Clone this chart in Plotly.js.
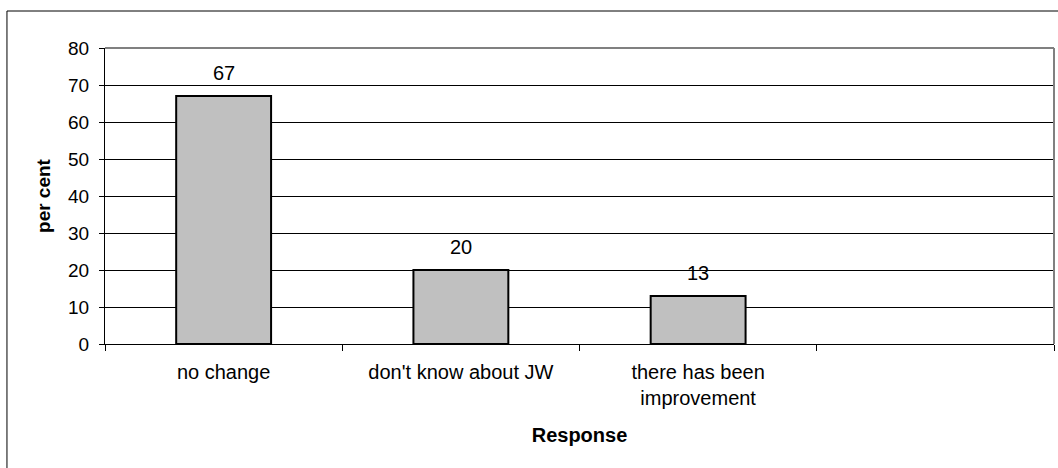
<!DOCTYPE html>
<html>
<head>
<meta charset="utf-8">
<script src="https://cdn.plot.ly/plotly-3.0.1.min.js"></script>
<style>html,body{margin:0;padding:0;background:#fff;}#chart{width:1058px;height:468px;}</style>
</head>
<body>
<div id="chart"></div>
<script>
var categories = ["no change", "don't know about JW", "there has been<br>improvement"];
var positions = [0, 1, 2];
var values = [67, 20, 13];
var yTicks = [0, 10, 20, 30, 40, 50, 60, 70, 80];

var font = "Liberation Sans, Arial, sans-serif";

var trace = {
  type: "bar",
  x: positions,
  y: values,
  width: 0.4,
  marker: {color: "#c0c0c0", line: {color: "#000", width: 2}},
  hoverinfo: "none"
};

var annotations = values.map(function(v, i){
  return {x: positions[i], y: v, text: String(v), showarrow: false, yanchor: "bottom",
          yshift: 10, font: {family: font, size: 20, color: "#000"}};
});

var layout = {
  width: 1058, height: 468,
  margin: {l: 105, r: 4, t: 48, b: 124},
  paper_bgcolor: "#fff", plot_bgcolor: "#fff",
  showlegend: false,
  font: {family: font, size: 20, color: "#000"},
  xaxis: {
    range: [-0.5, 3.5],
    tickmode: "array", tickvals: positions, ticktext: categories,
    ticks: "", showgrid: false, zeroline: false,
    showline: true, linecolor: "#000", linewidth: 1,
    minor: {tickmode: "linear", tick0: -0.5, dtick: 1, ticks: "outside", ticklen: 6, tickcolor: "#000", tickwidth: 1, showgrid: false},
    tickfont: {family: font, size: 20},
    ticklabelstandoff: 10,
    title: {text: "<b>Response</b>", font: {family: font, size: 20}, standoff: 19},
    fixedrange: true
  },
  yaxis: {
    range: [0, 80],
    tickmode: "array", tickvals: yTicks,
    ticks: "outside", ticklen: 5, tickcolor: "#000",
    showgrid: true, gridcolor: "#000", gridwidth: 1,
    zeroline: false, showline: true, linecolor: "#000", linewidth: 1,
    tickfont: {family: font, size: 19},
    ticklabelstandoff: 6,
    title: {text: "<b>per cent</b>", font: {family: font, size: 19}, standoff: 12},
    fixedrange: true
  },
  annotations: annotations,
  shapes: [
    {type: "line", xref: "paper", yref: "paper", x0: 0, x1: 1, y0: 1, y1: 1, line: {color: "#808080", width: 2}},
    {type: "line", xref: "paper", yref: "paper", x0: 1, x1: 1, y0: 0, y1: 1, line: {color: "#808080", width: 2}},
    {type: "rect", xref: "paper", yref: "paper", x0: -0.1033, x1: 1.05, y0: -0.5, y1: 1.125, line: {color: "#000", width: 1}, fillcolor: "rgba(0,0,0,0)"}
  ]
};

Plotly.newPlot("chart", [trace], layout, {staticPlot: true, displayModeBar: false});
</script>
</body>
</html>
